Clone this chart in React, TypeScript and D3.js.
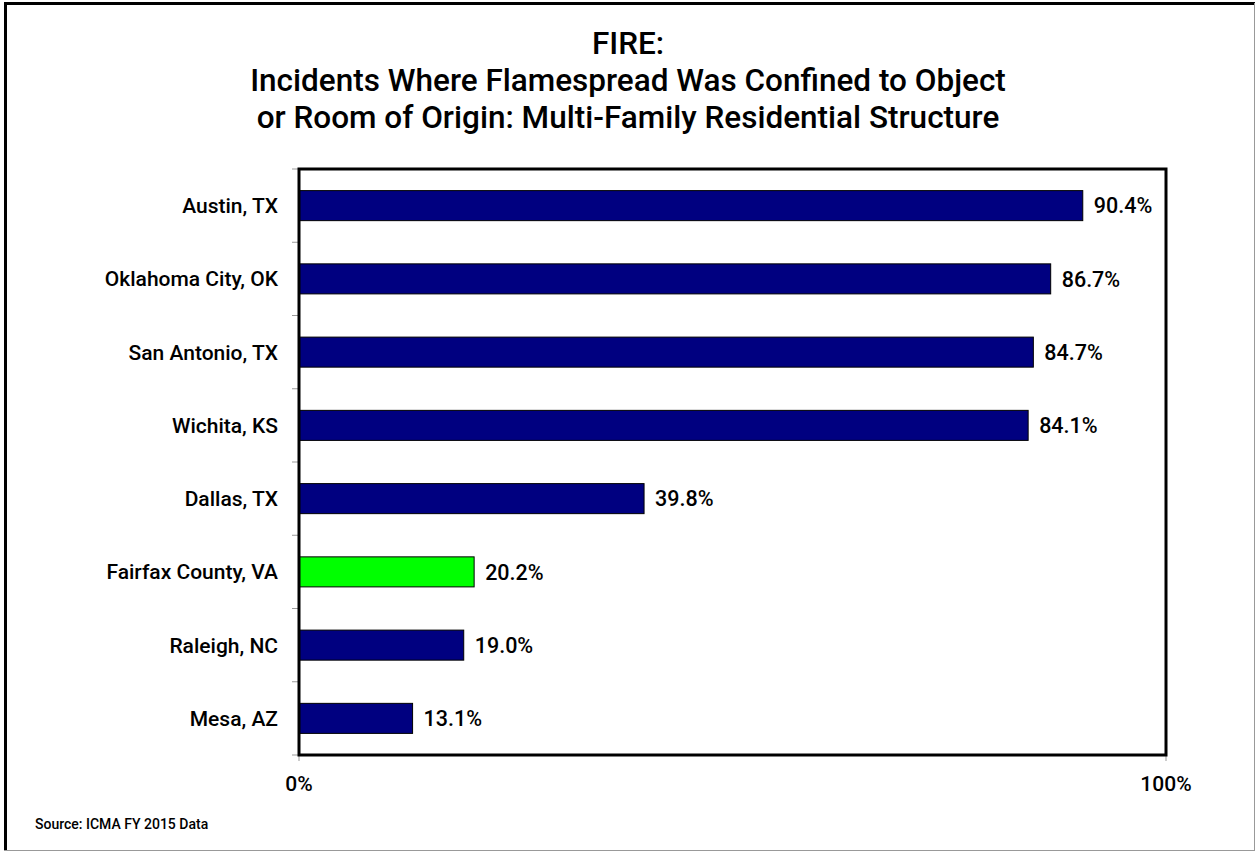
import React from "react";
import * as d3 from "d3";

const categories = [
  "Austin, TX",
  "Oklahoma City, OK",
  "San Antonio, TX",
  "Wichita, KS",
  "Dallas, TX",
  "Fairfax County, VA",
  "Raleigh, NC",
  "Mesa, AZ",
];
const values = [90.4, 86.7, 84.7, 84.1, 39.8, 20.2, 19.0, 13.1];
const highlight = "Fairfax County, VA";
const xTicks = [0, 100];
const titleLines = [
  "FIRE:",
  "Incidents Where Flamespread Was Confined to Object",
  "or Room of Origin: Multi-Family Residential Structure",
];
const sourceText = "Source: ICMA FY 2015 Data";

const W = 1257;
const H = 852;
const FONT = "Roboto, 'Liberation Sans', Arial, sans-serif";

export default function App() {
  const left = 299;
  const right = 1166;
  const top = 169;
  const bottom = 755;

  const x = d3.scaleLinear().domain([0, 100]).range([left, right]);
  const y = d3
    .scaleBand<string>()
    .domain(categories)
    .range([top, bottom])
    .paddingInner(0.59)
    .paddingOuter(0.295);
  const band = (bottom - top) / categories.length;
  const boundaries = d3.range(categories.length + 1).map((i) => top + i * band);

  return (
    <svg
      width={W}
      height={H}
      style={{ position: "absolute", left: 0, top: 0, background: "#fff" }}
      fontFamily={FONT}
    >
      <rect x={0} y={0} width={W} height={H} fill="#fff" />
      {/* outer frame */}
      <line x1={5.5} y1={3} x2={5.5} y2={851} stroke="#000" strokeWidth={3} />
      <line x1={4} y1={3.5} x2={1255} y2={3.5} stroke="#000" strokeWidth={3} />
      <line x1={1254.5} y1={3} x2={1254.5} y2={851} stroke="#999" strokeWidth={1} />
      <line x1={4} y1={850.5} x2={1255} y2={850.5} stroke="#999" strokeWidth={1} />

      {/* title */}
      {titleLines.map((t, i) => (
        <text
          key={i}
          x={628}
          y={54 + i * 37}
          textAnchor="middle"
          fontSize={31.5}
          fontWeight={500}
          fill="#000"
        >
          {t}
        </text>
      ))}

      {/* category ticks */}
      {boundaries.map((b, i) => (
        <line key={i} x1={left - 7} x2={left} y1={b} y2={b} stroke="#999" strokeWidth={1} />
      ))}
      {xTicks.map((t) => (
        <line key={t} x1={x(t)} x2={x(t)} y1={bottom} y2={bottom + 6} stroke="#999" strokeWidth={1} />
      ))}

      {/* bars */}
      {categories.map((c, i) => (
        <rect
          key={c}
          x={x(0)}
          y={y(c)!}
          width={x(values[i]) - x(0)}
          height={y.bandwidth()}
          fill={c === highlight ? "#00ff00" : "#000080"}
          stroke="#000"
          strokeWidth={1}
        />
      ))}

      {/* plot border */}
      <rect
        x={left}
        y={top}
        width={right - left}
        height={bottom - top}
        fill="none"
        stroke="#000"
        strokeWidth={3}
      />

      {/* category labels */}
      {categories.map((c) => (
        <text
          key={c}
          x={left - 21}
          y={y(c)! + y.bandwidth() / 2}
          dy="0.36em"
          textAnchor="end"
          fontSize={21}
          fontWeight={500}
          fill="#000"
        >
          {c}
        </text>
      ))}

      {/* value labels */}
      {categories.map((c, i) => (
        <text
          key={c}
          x={x(values[i]) + 11}
          y={y(c)! + y.bandwidth() / 2}
          dy="0.36em"
          textAnchor="start"
          fontSize={21.5}
          fontWeight={500}
          fill="#000"
        >
          {values[i].toFixed(1) + "%"}
        </text>
      ))}

      {/* x tick labels */}
      {xTicks.map((t) => (
        <text key={t} x={x(t)} y={791} textAnchor="middle" fontSize={21} fontWeight={500} fill="#000">
          {t + "%"}
        </text>
      ))}

      <text x={35} y={829} fontSize={14} fontWeight={500} fill="#000">
        {sourceText}
      </text>
    </svg>
  );
}
